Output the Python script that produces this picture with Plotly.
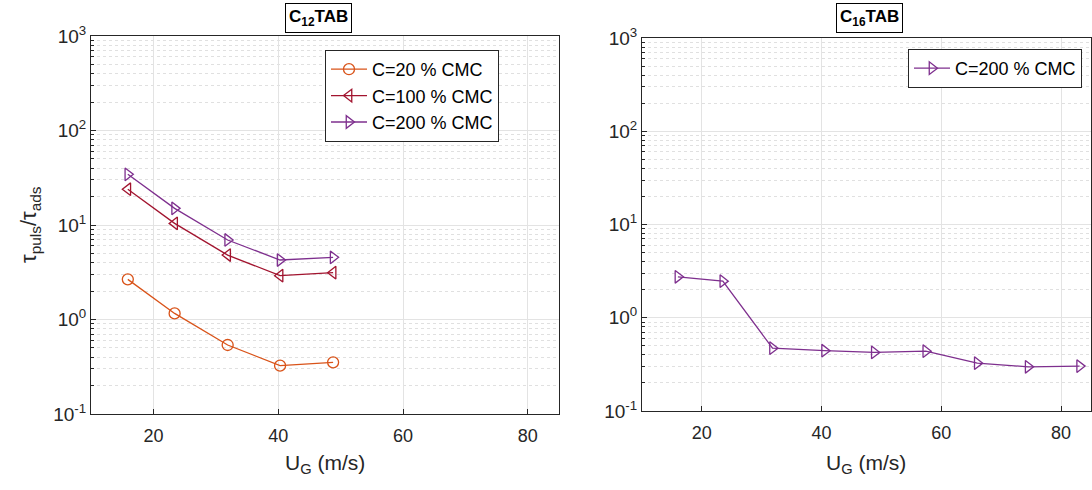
import plotly.graph_objects as go

# ---- data ----
ug_left = [15.9, 23.4, 31.9, 40.3, 48.8]
c20 = [2.66, 1.16, 0.537, 0.325, 0.352]
c100 = [23.9, 10.4, 4.81, 2.91, 3.13]
c200_left = [34.4, 15.0, 6.94, 4.26, 4.55]

ug_right = [16.0, 23.5, 31.8, 40.5, 48.8, 57.4, 66.0, 74.5, 83.1]
c200_right = [2.75, 2.47, 0.472, 0.443, 0.425, 0.438, 0.326, 0.298, 0.303]

x_ticks = [20, 40, 60, 80]
y_ticks = [0.1, 1, 10, 100, 1000]
y_ticktext = ["10<sup>-1</sup>", "10<sup>0</sup>", "10<sup>1</sup>", "10<sup>2</sup>", "10<sup>3</sup>"]
minor_vals = [m * 10 ** e for e in range(-1, 3) for m in range(2, 10)]

W, H = 1092, 490
FONT = "Liberation Sans, Arial, Helvetica, sans-serif"
AX = "#262626"

fig = go.Figure()

def add(x, y, name, color, symbol, xa, ya, legend):
    fig.add_trace(go.Scatter(
        x=x, y=y, name=name, mode="lines+markers",
        line=dict(color=color, width=1.3),
        marker=dict(symbol=symbol, size=11, color=color, line=dict(color=color, width=1.3)),
        xaxis=xa, yaxis=ya, legend=legend))

add(ug_left, c20, "C=20 % CMC", "#D95319", "circle-open", "x", "y", "legend")
add(ug_left, c100, "C=100 % CMC", "#A2142F", "triangle-left-open", "x", "y", "legend")
add(ug_left, c200_left, "C=200 % CMC", "#7E2F8E", "triangle-right-open", "x", "y", "legend")
add(ug_right, c200_right, "C=200 % CMC", "#7E2F8E", "triangle-right-open", "x2", "y2", "legend2")

def px_x(p):
    return p / W

def px_y(p):
    return 1 - p / H

xcommon = dict(range=[10, 85], tickvals=x_ticks, ticks="inside", ticklen=5, tickcolor=AX,
               showline=True, linecolor=AX, linewidth=1, mirror=True,
               showgrid=True, gridcolor="#e3e3e3", gridwidth=1, zeroline=False,
               tickfont=dict(family=FONT, size=18, color=AX), ticklabelstandoff=5,
               automargin=False)
ycommon = dict(type="log", range=[-1, 3], tickvals=y_ticks, ticktext=y_ticktext,
               ticks="inside", ticklen=5, tickcolor=AX,
               showline=True, linecolor=AX, linewidth=1, mirror=True,
               showgrid=True, gridcolor="#e3e3e3", gridwidth=1, zeroline=False,
               tickfont=dict(family=FONT, size=19, color=AX),
               minor=dict(tickvals=minor_vals, ticks="inside", ticklen=3, tickcolor=AX,
                          showgrid=True, gridcolor="#e0e0e0", griddash="dot", gridwidth=1),
               automargin=False)

fig.update_layout(
    width=W, height=H,
    margin=dict(l=0, r=0, t=0, b=0),
    paper_bgcolor="white", plot_bgcolor="white",
    font=dict(family=FONT, color=AX),
    xaxis=dict(domain=[px_x(91), px_x(559)], anchor="y", **xcommon),
    yaxis=dict(domain=[px_y(414), px_y(36)], anchor="x", **ycommon),
    xaxis2=dict(domain=[px_x(642), px_x(1091)], anchor="y2", **xcommon),
    yaxis2=dict(domain=[px_y(411), px_y(38)], anchor="x2", **ycommon),
    legend=dict(x=px_x(325), y=px_y(50), xanchor="left", yanchor="top",
                bgcolor="white", bordercolor=AX, borderwidth=1,
                font=dict(family=FONT, size=18, color="black"),
                itemwidth=36, tracegroupgap=0),
    legend2=dict(x=px_x(908), y=px_y(49), xanchor="left", yanchor="top",
                 bgcolor="white", bordercolor=AX, borderwidth=1,
                 font=dict(family=FONT, size=18, color="black"),
                 itemwidth=36),
    showlegend=True,
)

annots = [
    dict(text="<b>C<sub>12</sub>TAB</b>", x=px_x(318), y=px_y(18)),
    dict(text="<b>C<sub>16</sub>TAB</b>", x=px_x(869), y=px_y(18)),
]
for a in annots:
    fig.add_annotation(text=a["text"], x=a["x"], y=a["y"], xref="paper", yref="paper",
                       xanchor="center", yanchor="middle",
                       showarrow=False, font=dict(family=FONT, size=17, color="black"),
                       bordercolor="black", borderwidth=1, bgcolor="white", borderpad=3)

for cx in (325, 866):
    fig.add_annotation(text="U<sub>G</sub> (m/s)", x=px_x(cx), y=px_y(464), xref="paper", yref="paper",
                       xanchor="center", yanchor="middle",
                       showarrow=False, font=dict(family=FONT, size=21, color=AX))
fig.add_annotation(text="τ<sub>puls</sub>/τ<sub>ads</sub>", x=px_x(30), y=px_y(225), xref="paper", yref="paper",
                   xanchor="center", yanchor="middle",
                   showarrow=False, textangle=-90, font=dict(family=FONT, size=22, color=AX))

fig.write_html("out.html", config={"displayModeBar": False},
               post_script="document.body.style.margin='0';document.body.style.overflow='hidden';")
